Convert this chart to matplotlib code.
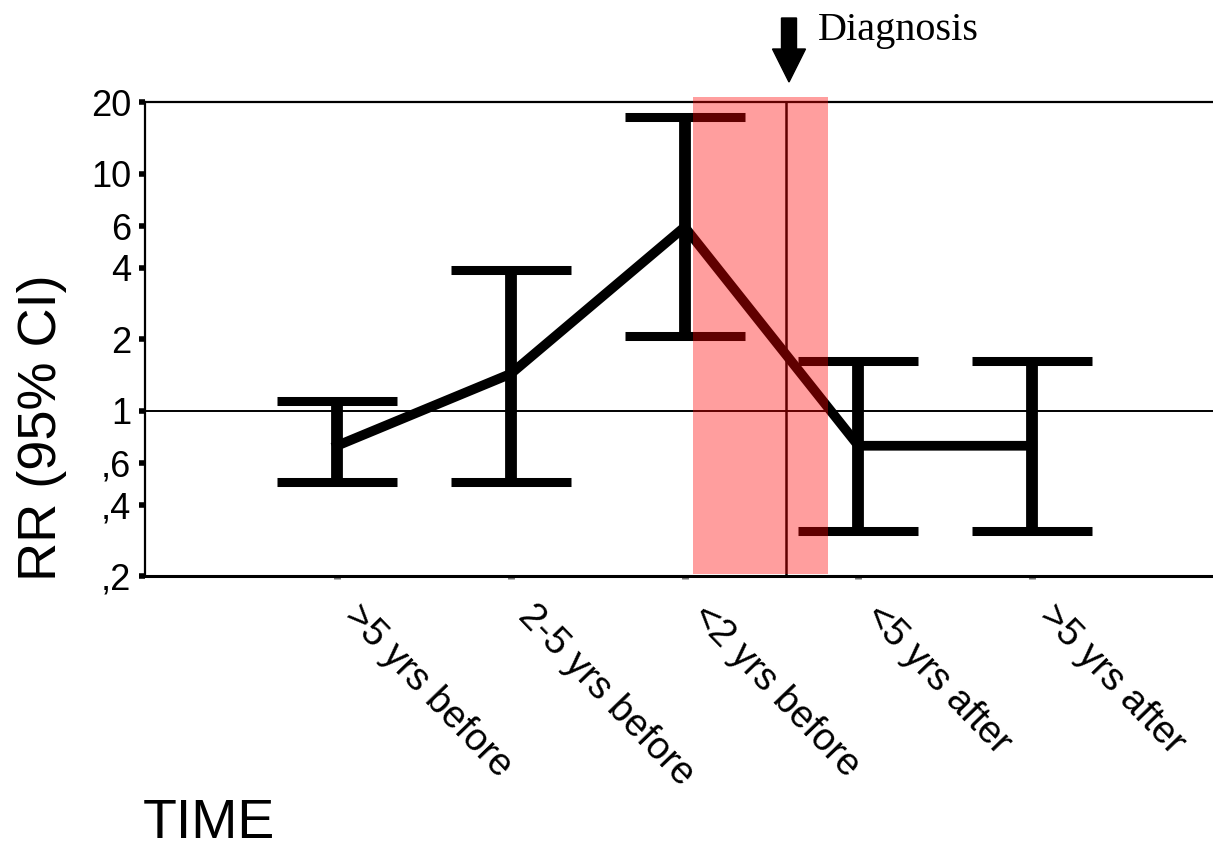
import numpy as np
import matplotlib
matplotlib.use("Agg")
import matplotlib.pyplot as plt
from matplotlib.patches import FancyArrow
from matplotlib.ticker import NullLocator

periods = [">5 yrs before", "2-5 yrs before", "<2 yrs before", "<5 yrs after", ">5 yrs after"]
rr = np.array([0.71, 1.43, 5.96, 0.71, 0.71])
ci_low = np.array([0.50, 0.50, 2.06, 0.31, 0.31])
ci_high = np.array([1.10, 3.92, 17.4, 1.62, 1.62])

y_ticks = [20, 10, 6, 4, 2, 1, 0.6, 0.4, 0.2]
y_ticklabels = ["20", "10", "6", "4", "2", "1", ",6", ",4", ",2"]

diagnosis_x = 2.584
window = (2.049, 2.826)

plt.rcParams["font.family"] = ["Liberation Sans", "DejaVu Sans"]

fig = plt.figure(figsize=(12.13, 8.52), dpi=100)
ax = fig.add_axes([0.1195, 0.3239, 0.8805, 0.5558])

x = np.arange(len(periods))
ax.errorbar(x, rr, yerr=[rr - ci_low, ci_high - rr], fmt="-", color="black",
            lw=7, elinewidth=8.5, capsize=43, capthick=6.5, zorder=3)

ax.axhline(1, color="black", lw=1.4, zorder=2)
ax.axvline(diagnosis_x, color="black", lw=1.8, zorder=2)

# highlighted window around diagnosis, drawn over the bars
ax.axvspan(window[0], window[1], ymin=0.005, ymax=1.011, color="red",
           alpha=0.38, lw=0, zorder=5, clip_on=False)

ax.set_yscale("log")
ax.set_ylim(0.2, 20)
ax.set_xlim(-1.105, 5.04)
ax.yaxis.set_minor_locator(NullLocator())
ax.set_yticks(y_ticks)
ax.set_yticklabels(y_ticklabels, fontsize=26)
ax.tick_params(axis="y", direction="out", length=4, width=4, pad=6)

ax.set_xticks(x)
ax.set_xticklabels(periods, fontsize=27.5, rotation=-46, ha="left", va="top")
ax.tick_params(axis="x", direction="out", length=2, width=5, color="0.45", pad=14)

ax.spines["right"].set_visible(False)
ax.spines["left"].set_linewidth(1.6)
ax.spines["bottom"].set_linewidth(2.2)
ax.spines["top"].set_linewidth(1.6)

fig.text(42 / 1213, 1 - 428 / 852, "RR (95% CI)", rotation=90, fontsize=39,
         ha="center", va="center")
fig.text(143 / 1213, 2 / 852, "TIME", fontsize=40, ha="left", va="bottom")

fig.text(818 / 1213, 1 - 40 / 852, "Diagnosis", fontsize=29,
         family="Liberation Serif", ha="left", va="baseline")
fig.patches.append(FancyArrow(789 / 1213, 1 - 18 / 852, 0, -64 / 852,
                              width=15 / 1213, head_width=33 / 1213,
                              head_length=33 / 852, length_includes_head=True,
                              color="black", transform=fig.transFigure))

fig.savefig("out.png", dpi=100)
